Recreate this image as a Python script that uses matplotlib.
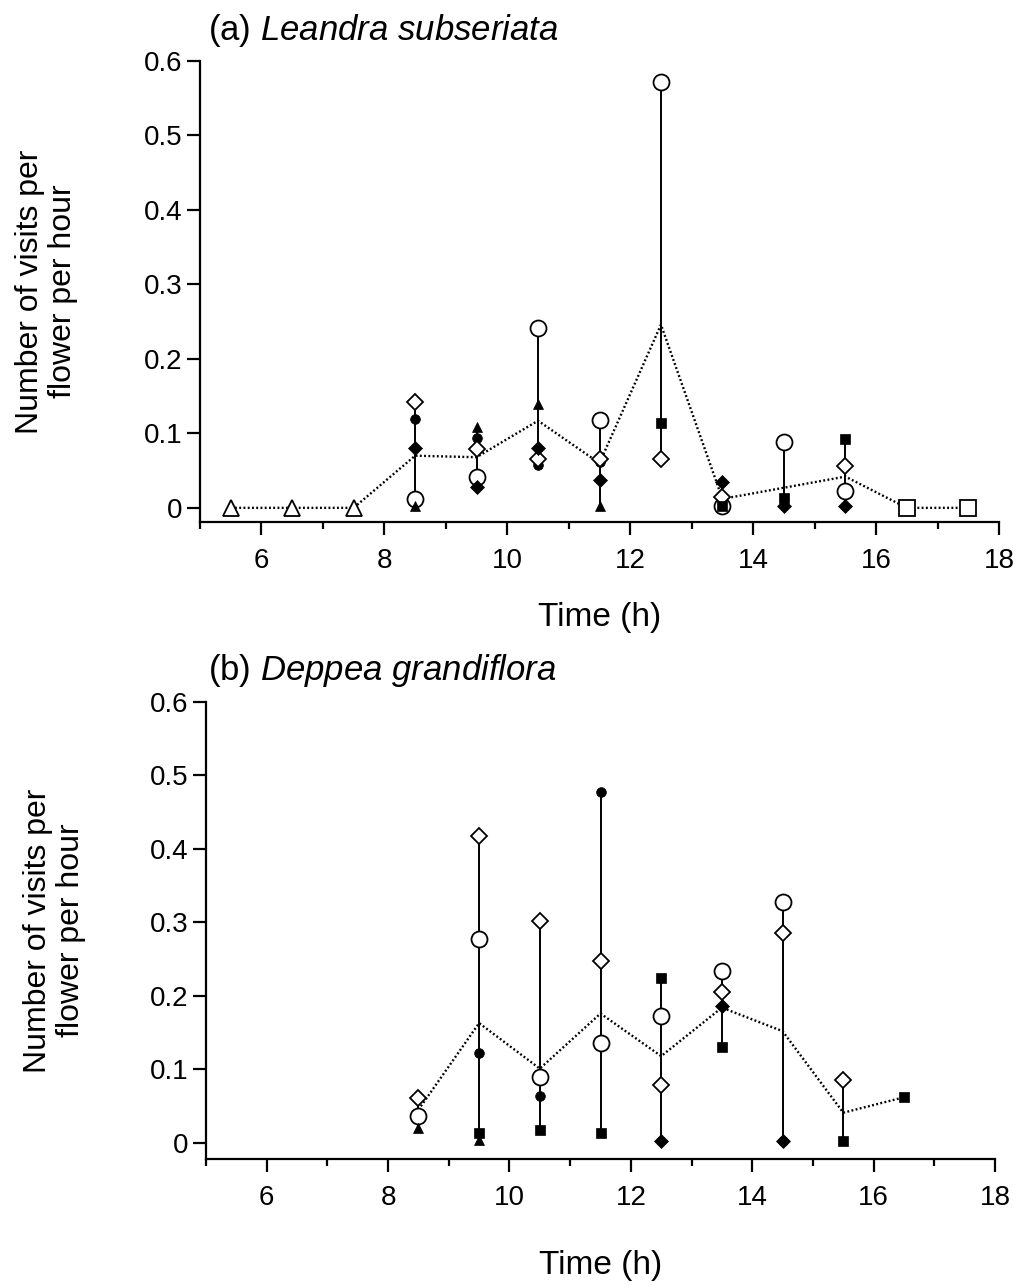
import numpy as np
import matplotlib.pyplot as plt

plt.rcParams['font.family'] = ['Liberation Sans', 'DejaVu Sans']
plt.rcParams['mathtext.fontset'] = 'custom'
plt.rcParams['mathtext.rm'] = 'Liberation Sans'
plt.rcParams['mathtext.it'] = 'Liberation Sans:italic'

N = np.nan

# (a) Leandra subseriata
times_a = [5.5, 6.5, 7.5, 8.5, 9.5, 10.5, 11.5, 12.5, 13.5, 14.5, 15.5, 16.5, 17.5]
a_open_circle = [N, N, N, 0.012, 0.042, 0.242, 0.118, 0.572, 0.003, 0.088, 0.023, N, N]
a_filled_circle = [N, N, N, 0.119, 0.094, 0.057, 0.061, N, N, N, N, N, N]
a_open_diamond = [N, N, N, 0.142, 0.079, 0.066, 0.065, 0.066, 0.014, N, 0.056, N, N]
a_filled_diamond = [N, N, N, 0.081, 0.028, 0.081, 0.038, N, 0.035, 0.003, 0.003, N, N]
a_filled_triangle = [N, N, N, 0.003, 0.109, 0.140, 0.003, N, N, N, N, N, N]
a_filled_square = [N, N, N, N, N, N, N, 0.114, 0.003, 0.013, 0.092, N, N]
a_open_triangle = [0, 0, 0, N, N, N, N, N, N, N, N, N, N]
a_open_square = [N, N, N, N, N, N, N, N, N, N, N, 0, 0]
a_mean = [0, 0, 0, 0.070, 0.068, 0.117, 0.060, 0.246, 0.012, 0.027, 0.042, 0, 0]

# (b) Deppea grandiflora
times_b = [8.5, 9.5, 10.5, 11.5, 12.5, 13.5, 14.5, 15.5, 16.5]
b_open_circle = [0.037, 0.278, 0.090, 0.136, 0.172, 0.234, 0.328, N, N]
b_filled_circle = [N, 0.122, 0.064, 0.477, N, N, 0.002, N, N]
b_open_diamond = [0.061, 0.417, 0.302, 0.247, 0.079, 0.205, 0.285, 0.085, N]
b_filled_diamond = [N, N, N, N, 0.002, 0.186, 0.002, N, N]
b_filled_triangle = [0.020, 0.004, N, N, N, N, N, N, N]
b_filled_square = [N, 0.013, 0.018, 0.013, 0.225, 0.131, N, 0.002, 0.062]
b_mean = [0.045, 0.163, 0.101, 0.176, 0.118, 0.184, 0.152, 0.041, 0.062]

# marker styles, drawn in this order
styles = {
    'open_circle': dict(marker='o', ms=11.5, mfc='white', mec='black', mew=1.3),
    'filled_circle': dict(marker='o', ms=7, mfc='black', mec='black', mew=0.5),
    'open_diamond': dict(marker='D', ms=8.5, mfc='white', mec='black', mew=1.3),
    'filled_diamond': dict(marker='D', ms=7.5, mfc='black', mec='black', mew=0.5),
    'filled_triangle': dict(marker='^', ms=7, mfc='black', mec='black', mew=0.5),
    'filled_square': dict(marker='s', ms=7, mfc='black', mec='black', mew=0.5),
    'open_triangle': dict(marker='^', ms=11, mfc='white', mec='black', mew=1.3),
    'open_square': dict(marker='s', ms=11, mfc='white', mec='black', mew=1.3),
}

panels = [
    dict(times=times_a, mean=a_mean, ylow=-0.019,
         rect=[200 / 1013, 1 - 522 / 1286, 799 / 1013, 461 / 1286],
         title=r'(a) $\mathit{Leandra\ subseriata}$', title_y=1 - 40 / 1286,
         xlab_y=-0.208,
         series={'open_circle': a_open_circle, 'filled_circle': a_filled_circle,
                 'open_diamond': a_open_diamond, 'filled_diamond': a_filled_diamond,
                 'filled_triangle': a_filled_triangle, 'filled_square': a_filled_square,
                 'open_triangle': a_open_triangle, 'open_square': a_open_square}),
    dict(times=times_b, mean=b_mean, ylow=-0.022,
         rect=[206 / 1013, 1 - 1159 / 1286, 789 / 1013, 457 / 1286],
         title=r'(b) $\mathit{Deppea\ grandiflora}$', title_y=1 - 680 / 1286,
         xlab_y=-0.232,
         series={'open_circle': b_open_circle, 'filled_circle': b_filled_circle,
                 'open_diamond': b_open_diamond, 'filled_diamond': b_filled_diamond,
                 'filled_triangle': b_filled_triangle, 'filled_square': b_filled_square}),
]

fig = plt.figure(figsize=(10.13, 12.86), dpi=100)

for p in panels:
    ax = fig.add_axes(p['rect'])
    t = np.array(p['times'])
    vals = np.array([np.array(v, dtype=float) for v in p['series'].values()])

    # vertical range lines at each hour
    cnt = np.sum(~np.isnan(vals), axis=0)
    lo = np.nanmin(vals, axis=0)
    hi = np.nanmax(vals, axis=0)
    keep = cnt > 1
    ax.vlines(t[keep], lo[keep], hi[keep], color='black', lw=1.4, zorder=2)

    # mean line
    ax.plot(t, p['mean'], color='black', lw=1.7, ls=(0, (0.8, 1.0)), zorder=3)

    z = 4
    for name, v in p['series'].items():
        ax.plot(t, np.array(v, dtype=float), ls='none', zorder=z, **styles[name])
        z += 1

    ax.set_xlim(5, 18)
    ax.set_ylim(p['ylow'], 0.6)
    ax.spines['top'].set_visible(False)
    ax.spines['right'].set_visible(False)
    for s in ['left', 'bottom']:
        ax.spines[s].set_linewidth(1.6)
    ax.set_xticks([6, 8, 10, 12, 14, 16, 18])
    ax.set_xticks(np.arange(5, 18, 1), minor=True)
    ax.set_yticks([0, 0.1, 0.2, 0.3, 0.4, 0.5, 0.6])
    ax.set_yticklabels(['0', '0.1', '0.2', '0.3', '0.4', '0.5', '0.6'])
    ax.tick_params(axis='x', which='major', direction='out', length=9.5, width=1.6,
                   labelsize=20, pad=9)
    ax.tick_params(axis='x', which='minor', direction='out', length=5, width=1.6)
    ax.tick_params(axis='y', which='major', direction='out', length=9.5, width=1.6,
                   labelsize=20, pad=3)

    ax.set_xlabel('Time (h)', fontsize=24, va='center')
    ax.xaxis.set_label_coords(0.5, p['xlab_y'])
    ax.set_ylabel('Number of visits per\nflower per hour', fontsize=23,
                  va='center', linespacing=1.1)
    ax.yaxis.set_label_coords(-0.192, 0.5)

    fig.text(208 / 1013, p['title_y'], p['title'], fontsize=25, va='baseline')

fig.savefig('out.png', dpi=100)
